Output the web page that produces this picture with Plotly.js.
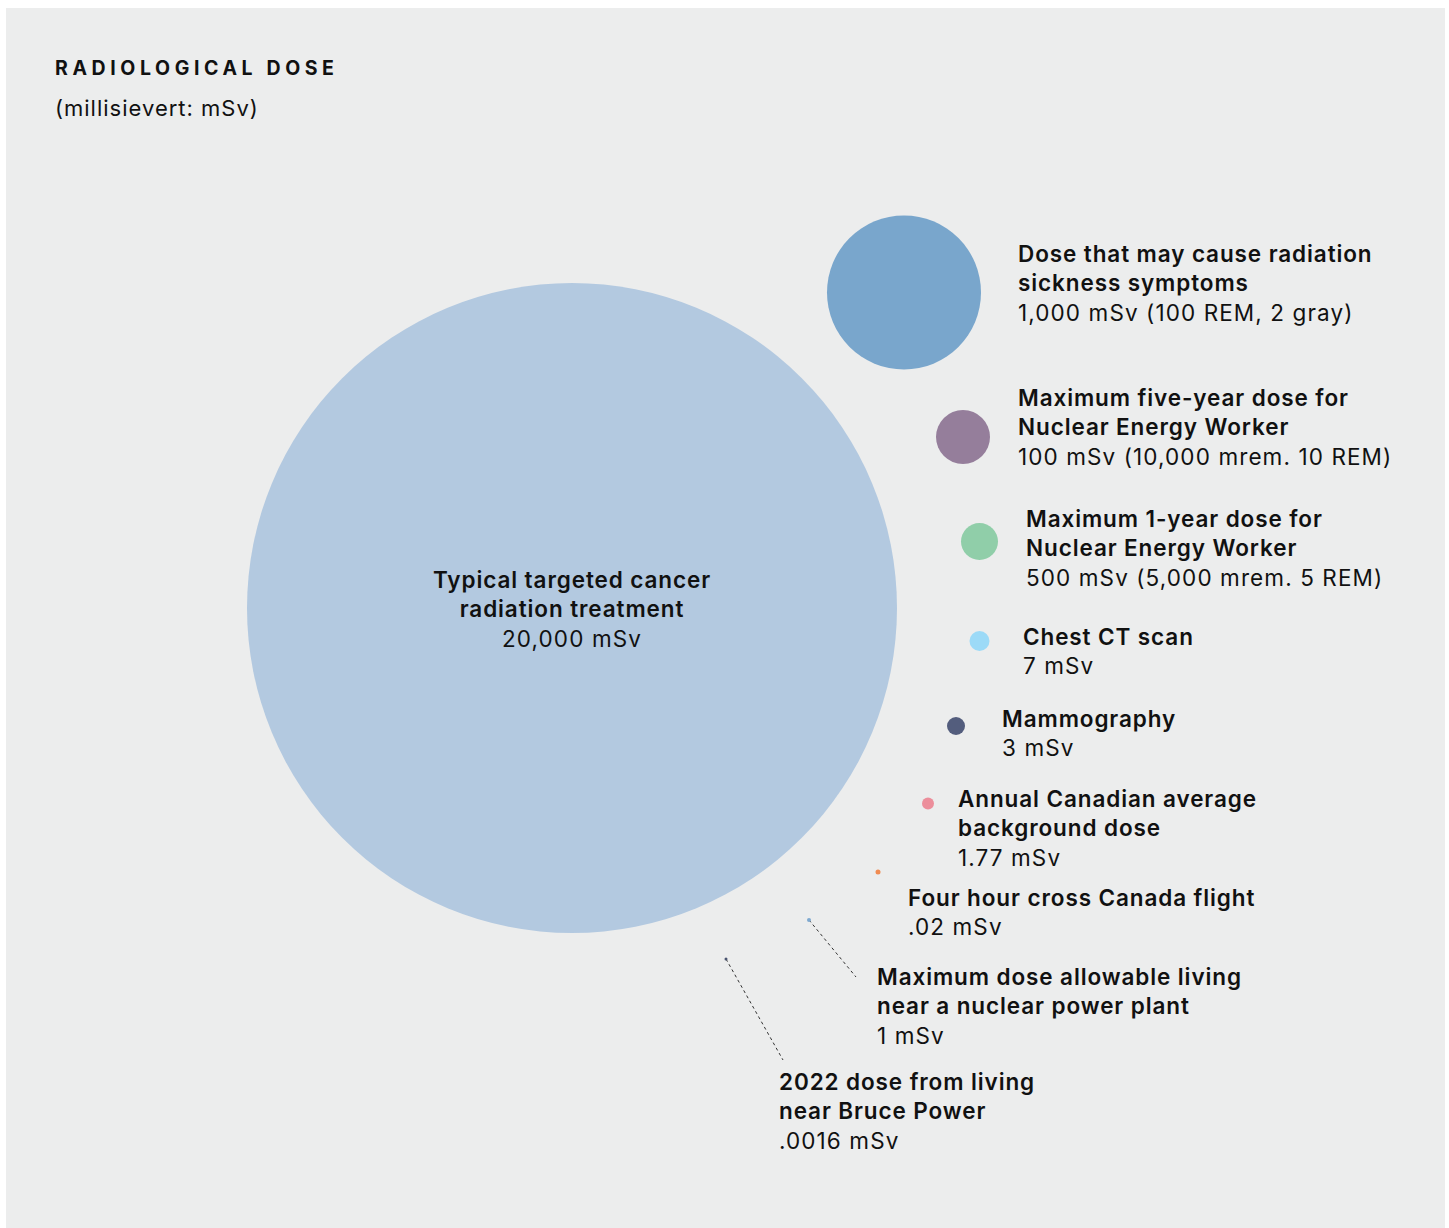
<!DOCTYPE html>
<html>
<head>
<meta charset="utf-8">
<script src="https://cdn.plot.ly/plotly-3.0.1.min.js"></script>
<style>
html,body{margin:0;padding:0;background:#ffffff;}
#chart{width:1449px;height:1228px;}
</style>
</head>
<body>
<div id="chart"></div>
<script>
// ---- data ----
const titles = [
  "Typical targeted cancer<br>radiation treatment",
  "Dose that may cause radiation<br>sickness symptoms",
  "Maximum five-year dose for<br>Nuclear Energy Worker",
  "Maximum 1-year dose for<br>Nuclear Energy Worker",
  "Chest CT scan",
  "Mammography",
  "Annual Canadian average<br>background dose",
  "Four hour cross Canada flight",
  "Maximum dose allowable living<br>near a nuclear power plant",
  "2022 dose from living<br>near Bruce Power"
];
const doseLabels = [
  "20,000 mSv",
  "1,000 mSv (100 REM, 2 gray)",
  "100 mSv (10,000 mrem. 10 REM)",
  "500 mSv (5,000 mrem. 5 REM)",
  "7 mSv",
  "3 mSv",
  "1.77 mSv",
  ".02 mSv",
  "1 mSv",
  ".0016 mSv"
];
// bubble centre positions (chart coordinates)
const bubbleX = [572, 904, 963, 979.5, 979.5, 956, 928, 878, 809, 726];
const bubbleY = [608, 292.5, 437, 541.5, 641, 726, 803.5, 872, 920, 959];

// ---- styles ----
const bubbleDiam = [650, 154, 54, 37, 20, 18, 12, 5, 4, 3];
const bubbleColor = ["#B3C9E0", "#79A6CC", "#957E9B", "#90CEA9", "#9CDAF7", "#535D7D", "#EC8E9B", "#F08B52", "#7FA9D0", "#4A5470"];
const labelX = [572, 1016, 1016, 1024, 1021, 1000, 956, 906, 875, 777];
const labelTopY = [580, 254, 398, 519, 636, 718, 799, 897, 977, 1082];
const leaderFrom = [[809, 920], [726, 959]];
const leaderTo = [[856, 977], [783, 1060]];

const FONT = "Inter, 'Noto Sans', sans-serif";
const TXT = "#111111";

const traces = [];
// leader lines
for (let i = 0; i < leaderFrom.length; i++) {
  traces.push({
    type: "scatter", mode: "lines",
    x: [leaderFrom[i][0], leaderTo[i][0]],
    y: [leaderFrom[i][1], leaderTo[i][1]],
    line: {color: "#333333", width: 1, dash: "dot"},
    hoverinfo: "skip", showlegend: false
  });
}
traces.push({
  type: "scatter", mode: "markers",
  x: bubbleX, y: bubbleY,
  text: titles,
  marker: {size: bubbleDiam, sizemode: "diameter", color: bubbleColor, opacity: 1, line: {width: 0}},
  hoverinfo: "text", showlegend: false, cliponaxis: false
});

const LH = 29.3;
function boldLine(s) { return '<span style="font-weight:600;letter-spacing:0.9px">' + s + '</span>'; }
function regLine(s) { return '<span style="letter-spacing:1.1px">' + s + '</span>'; }
const annotations = [];
for (let i = 0; i < titles.length; i++) {
  const tLines = titles[i].split("<br>");
  const nLines = tLines.length + 1;
  const midY = labelTopY[i] + (nLines - 1) * LH / 2;
  annotations.push({
    x: labelX[i], y: midY, xref: "x", yref: "y",
    xanchor: i === 0 ? "center" : "left", yanchor: "middle",
    align: i === 0 ? "center" : "left",
    showarrow: false,
    text: tLines.map(boldLine).join("<br>") + "<br>" + regLine(doseLabels[i]),
    font: {family: FONT, size: 22.5, color: TXT}
  });
}
annotations.push({
  x: 53, y: 68, xref: "x", yref: "y", xanchor: "left", yanchor: "middle",
  showarrow: false,
  text: "<span style=\"font-weight:700;letter-spacing:4.6px\">RADIOLOGICAL DOSE</span>",
  font: {family: FONT, size: 19.5, color: TXT}
});
annotations.push({
  x: 53, y: 108, xref: "x", yref: "y", xanchor: "left", yanchor: "middle",
  showarrow: false,
  text: "<span style=\"letter-spacing:1px\">(millisievert: mSv)</span>",
  font: {family: FONT, size: 22, color: TXT}
});

const layout = {
  width: 1449, height: 1228,
  margin: {l: 6, r: 4, t: 8, b: 0, pad: 0},
  paper_bgcolor: "#ffffff",
  plot_bgcolor: "#ECEDED",
  xaxis: {range: [6, 1445], visible: false, fixedrange: true},
  yaxis: {range: [1228, 8], visible: false, fixedrange: true},
  annotations: annotations,
  font: {family: FONT},
  showlegend: false
};

Plotly.newPlot("chart", traces, layout, {displayModeBar: false, staticPlot: true});
</script>
</body>
</html>
